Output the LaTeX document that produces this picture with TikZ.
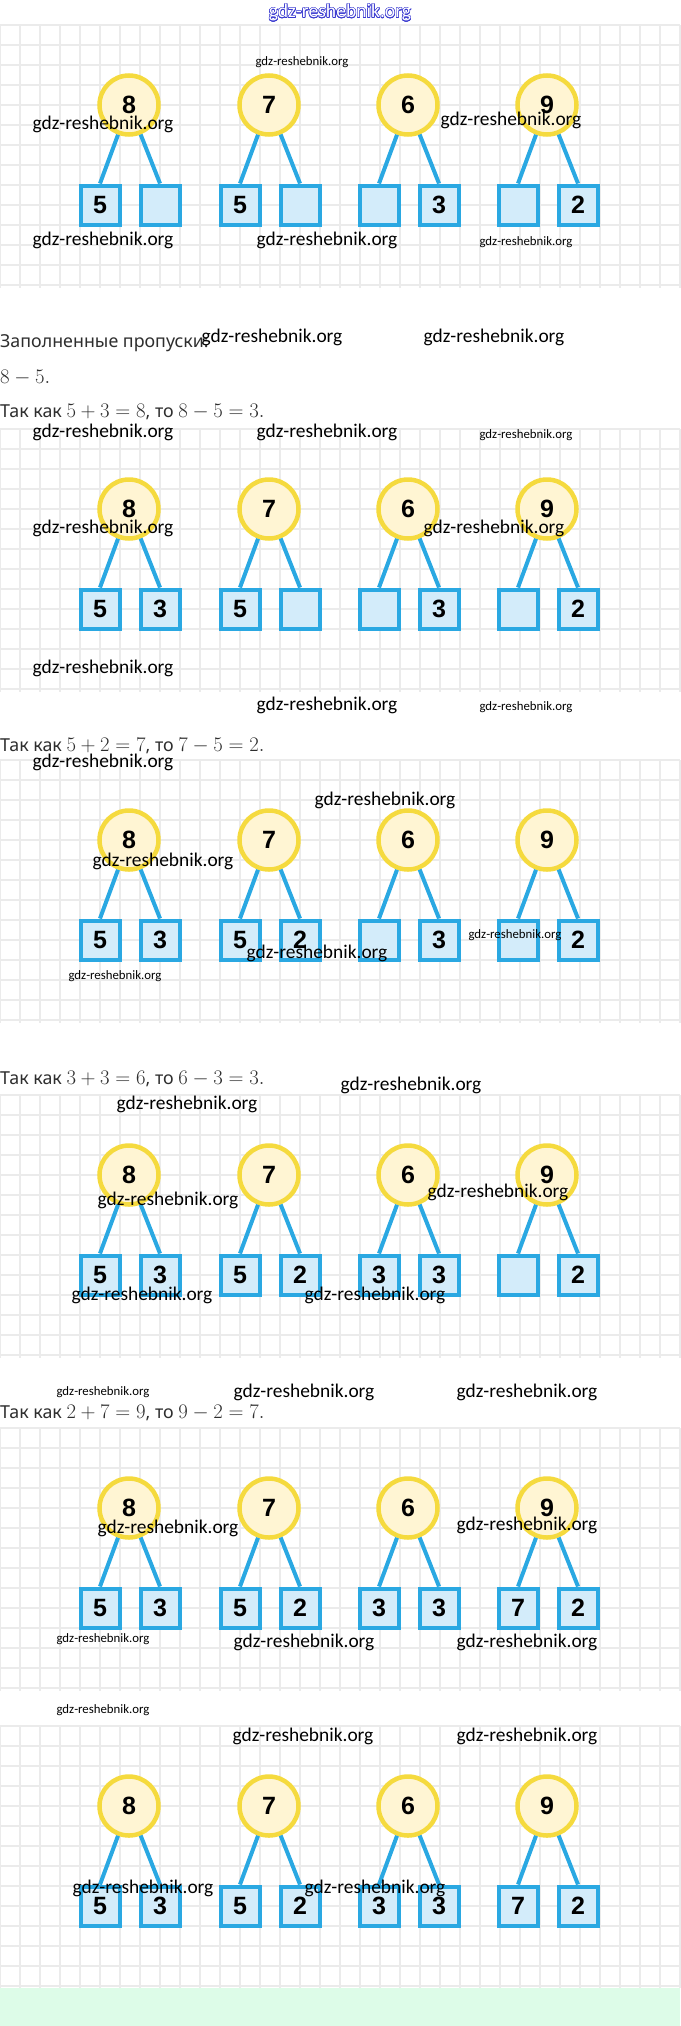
\documentclass[tikz,border=0pt]{standalone}
\usepackage{fontspec}
\usepackage{xcolor}
\usepackage{contour}
\newfontfamily\cifry{Liberation Sans}
\newfontfamily\russkij[Scale=0.86]{Noto Sans}
\newfontfamily\znakfont{Carlito}
\definecolor{zheltyj}{HTML}{F5DA3E}
\definecolor{svetlozheltyj}{HTML}{FFF5D3}
\definecolor{sinij}{HTML}{2AA8E2}
\definecolor{goluboj}{HTML}{D3ECFA}
\definecolor{setkaseryj}{HTML}{EBEBEB}
\definecolor{myatnyj}{HTML}{DDFCE8}
\definecolor{titulsinij}{HTML}{3A3AD0}
\definecolor{tekstseryj}{HTML}{2E2E2E}
\contourlength{0.55pt}

\begin{document}
\begin{tikzpicture}[x=1pt, y=-1pt,
  krug/.style={circle, draw=zheltyj, line width=4.5pt, fill=svetlozheltyj, minimum size=59pt, inner sep=0pt, font=\cifry\bfseries\fontsize{25}{25}\selectfont},
  kvadrat/.style={rectangle, draw=sinij, line width=4pt, fill=goluboj, minimum size=39pt, inner sep=0pt, font=\cifry\bfseries\fontsize{25}{25}\selectfont},
  vetka/.style={draw=sinij, line width=4pt},
  setka/.style={draw=setkaseryj, line width=1.3pt},
  stroka/.style={anchor=base west, inner sep=0pt, text=tekstseryj, font=\fontsize{20.74}{24}\selectfont},
  znak/.style={inner sep=0pt, font=\znakfont\fontsize{19.4}{20}\selectfont},
  malznak/.style={inner sep=0pt, font=\znakfont\fontsize{12.8}{13}\selectfont}]
  \path[use as bounding box] (0,0) rectangle (680,2026);

  % Заголовок
  \node[inner sep=0pt, text=white, font=\znakfont\fontsize{19.6}{20}\selectfont] (titul) at (340,13)
    {\contour{titulsinij}{gdz-reshebnik.org}};

  % Рисунок 1
  \begin{scope}[shift={(0,25)}]
    \foreach \gx in {0,20,...,680} \draw[setka] (\gx,0) -- (\gx,263);
    \foreach \gy in {0,20,...,260} \draw[setka] (0,\gy) -- (680,\gy);
    \foreach \n/\x/\l/\r [count=\i] in {8/129/5/, 7/269/5/, 6/408//3, 9/547//2} {
      \node[krug] (a\i) at (\x,80) {\n};
      \node[kvadrat] (a\i-l) at (\x-29,180) {\l};
      \node[kvadrat] (a\i-r) at (\x+31,180) {\r};
      \draw[vetka] (a\i) -- (a\i-l.north);
      \draw[vetka] (a\i) -- (a\i-r.north);
    }
  \end{scope}

  \node[stroka] (zapoln) at (0,347) {\russkij Заполненные пропуски:};
  \node[stroka] (razn) at (0,383) {$8-5.$};
  \node[stroka] (tak1) at (0,417) {\russkij Так как $5+3=8$, то $8-5=3.$};

  % Рисунок 2
  \begin{scope}[shift={(0,429)}]
    \foreach \gx in {0,20,...,680} \draw[setka] (\gx,0) -- (\gx,263);
    \foreach \gy in {0,20,...,260} \draw[setka] (0,\gy) -- (680,\gy);
    \foreach \n/\x/\l/\r [count=\i] in {8/129/5/3, 7/269/5/, 6/408//3, 9/547//2} {
      \node[krug] (b\i) at (\x,80) {\n};
      \node[kvadrat] (b\i-l) at (\x-29,180) {\l};
      \node[kvadrat] (b\i-r) at (\x+31,180) {\r};
      \draw[vetka] (b\i) -- (b\i-l.north);
      \draw[vetka] (b\i) -- (b\i-r.north);
    }
  \end{scope}

  \node[stroka] (tak2) at (0,751) {\russkij Так как $5+2=7$, то $7-5=2.$};

  % Рисунок 3
  \begin{scope}[shift={(0,760)}]
    \foreach \gx in {0,20,...,680} \draw[setka] (\gx,0) -- (\gx,263);
    \foreach \gy in {0,20,...,260} \draw[setka] (0,\gy) -- (680,\gy);
    \foreach \n/\x/\l/\r [count=\i] in {8/129/5/3, 7/269/5/2, 6/408//3, 9/547//2} {
      \node[krug] (c\i) at (\x,80) {\n};
      \node[kvadrat] (c\i-l) at (\x-29,180) {\l};
      \node[kvadrat] (c\i-r) at (\x+31,180) {\r};
      \draw[vetka] (c\i) -- (c\i-l.north);
      \draw[vetka] (c\i) -- (c\i-r.north);
    }
  \end{scope}

  \node[stroka] (tak3) at (0,1084) {\russkij Так как $3+3=6$, то $6-3=3.$};

  % Рисунок 4
  \begin{scope}[shift={(0,1095)}]
    \foreach \gx in {0,20,...,680} \draw[setka] (\gx,0) -- (\gx,263);
    \foreach \gy in {0,20,...,260} \draw[setka] (0,\gy) -- (680,\gy);
    \foreach \n/\x/\l/\r [count=\i] in {8/129/5/3, 7/269/5/2, 6/408/3/3, 9/547//2} {
      \node[krug] (d\i) at (\x,80) {\n};
      \node[kvadrat] (d\i-l) at (\x-29,180) {\l};
      \node[kvadrat] (d\i-r) at (\x+31,180) {\r};
      \draw[vetka] (d\i) -- (d\i-l.north);
      \draw[vetka] (d\i) -- (d\i-r.north);
    }
  \end{scope}

  \node[stroka] (tak4) at (0,1418) {\russkij Так как $2+7=9$, то $9-2=7.$};

  % Рисунок 5
  \begin{scope}[shift={(0,1428)}]
    \foreach \gx in {0,20,...,680} \draw[setka] (\gx,0) -- (\gx,263);
    \foreach \gy in {0,20,...,260} \draw[setka] (0,\gy) -- (680,\gy);
    \foreach \n/\x/\l/\r [count=\i] in {8/129/5/3, 7/269/5/2, 6/408/3/3, 9/547/7/2} {
      \node[krug] (e\i) at (\x,80) {\n};
      \node[kvadrat] (e\i-l) at (\x-29,180) {\l};
      \node[kvadrat] (e\i-r) at (\x+31,180) {\r};
      \draw[vetka] (e\i) -- (e\i-l.north);
      \draw[vetka] (e\i) -- (e\i-r.north);
    }
  \end{scope}

  % Рисунок 6
  \begin{scope}[shift={(0,1726)}]
    \foreach \gx in {0,20,...,680} \draw[setka] (\gx,0) -- (\gx,262);
    \foreach \gy in {0,20,...,260} \draw[setka] (0,\gy) -- (680,\gy);
    \foreach \n/\x/\l/\r [count=\i] in {8/129/5/3, 7/269/5/2, 6/408/3/3, 9/547/7/2} {
      \node[krug] (f\i) at (\x,80) {\n};
      \node[kvadrat] (f\i-l) at (\x-29,180) {\l};
      \node[kvadrat] (f\i-r) at (\x+31,180) {\r};
      \draw[vetka] (f\i) -- (f\i-l.north);
      \draw[vetka] (f\i) -- (f\i-r.north);
    }
  \end{scope}

  \fill[myatnyj] (0,1988) rectangle (680,2026);

  % Водяные знаки
  \foreach \wx/\wy [count=\k] in {103/124, 511/120, 103/240, 327/240, 272/337, 494/337,
      103/432, 327/432, 103/528, 494/528, 103/668, 327/705, 103/762, 385/800, 163/861,
      317/953, 411/1085, 187/1104, 168/1200, 498/1192, 142/1295, 375/1295, 304/1392,
      527/1392, 168/1528, 527/1525, 304/1642, 527/1642, 303/1736, 527/1736, 143/1888, 375/1888}
    \node[znak] (m\k) at (\wx,\wy) {gdz-reshebnik.org};
  \foreach \wx/\wy [count=\k] in {302/62, 526/242, 526/435, 526/707, 515/935, 115/976,
      103/1392, 103/1639, 103/1710}
    \node[malznak] (s\k) at (\wx,\wy) {gdz-reshebnik.org};
\end{tikzpicture}
\end{document}
